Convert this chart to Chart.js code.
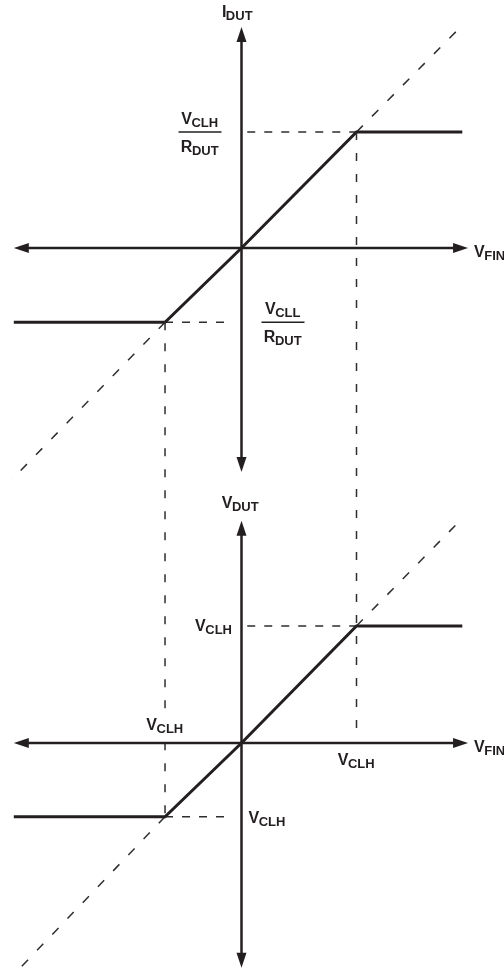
<!DOCTYPE html>
<html>
<head>
<meta charset="utf-8">
<script src="https://cdn.jsdelivr.net/npm/chart.js@4"></script>
<style>
  html, body { margin: 0; padding: 0; background: #fff; }
  canvas { display: block; }
</style>
</head>
<body>
<canvas id="clamp" width="504" height="972"></canvas>
<script>
// transfer curve corners (V_CLH = 1 unit on each axis)
const vfin = [-1.98, -0.665, 0, 1.0, 1.92];
const idut = [-0.64, -0.64, 0, 1.0, 1.0];
const vdut = [-0.63, -0.63, 0, 1.0, 1.0];

// unclamped (ideal) line ends, y = x
const idealEnds = [-2.0, 1.9];

// axis extents (arrow tips)
const axisX = [-1.98, 1.97];
const axisTopY = [-1.93, 1.905];
const axisBotY = [-1.92, 1.9];

// label texts [main, subscript]
const xName = ['V', 'FIN'];
const topName = ['I', 'DUT'];
const botName = ['V', 'DUT'];
const highName = ['V', 'CLH'];
const lowName = ['V', 'CLL'];
const resName = ['R', 'DUT'];

const INK = '#231f20';
const DASH = '#2e2e2e';

function pts(xs, ys) {
    let out = [];
    for (let i = 0; i < xs.length; i++) {
        out.push({x: xs[i], y: ys[i]});
    }
    return out;
}

function curve(ys, axis) {
    return {
        data: pts(vfin, ys), yAxisID: axis, showLine: true,
        borderColor: INK, borderWidth: 3, pointRadius: 0, borderJoinStyle: 'miter'
    };
}

function ideal(ys, axis) {
    // dashed extension beyond both clamp corners
    return {
        data: [
            {x: vfin[3], y: ys[3]}, {x: idealEnds[1], y: idealEnds[1]},
            {x: 0, y: null},
            {x: vfin[1], y: ys[1]}, {x: idealEnds[0], y: idealEnds[0]}
        ],
        yAxisID: axis, showLine: true, spanGaps: false,
        borderColor: DASH, borderWidth: 1.5, borderDash: [9, 13], pointRadius: 0
    };
}

function guides(ys, axis) {
    return {
        data: [
            {x: vfin[2] + 0.05, y: ys[3]}, {x: vfin[3], y: ys[3]},
            {x: 0, y: null},
            {x: vfin[1], y: ys[1]}, {x: vfin[2] - 0.14, y: ys[1]}
        ],
        yAxisID: axis, showLine: true, spanGaps: false,
        borderColor: DASH, borderWidth: 1.5, borderDash: [8, 9], pointRadius: 0
    };
}

function arrowHead(ctx, tx, ty, dx, dy) {
    let len = 15, half = 5;
    let bx = tx - dx * len, by = ty - dy * len;
    ctx.beginPath();
    ctx.moveTo(tx, ty);
    ctx.lineTo(bx - dy * half, by + dx * half);
    ctx.lineTo(bx + dy * half, by - dx * half);
    ctx.closePath();
    ctx.fill();
}

function arrowLine(ctx, x1, y1, x2, y2) {
    let L = Math.hypot(x2 - x1, y2 - y1);
    let dx = (x2 - x1) / L, dy = (y2 - y1) / L;
    ctx.beginPath();
    ctx.moveTo(x1 + dx * 12, y1 + dy * 12);
    ctx.lineTo(x2 - dx * 12, y2 - dy * 12);
    ctx.stroke();
    arrowHead(ctx, x2, y2, dx, dy);
    arrowHead(ctx, x1, y1, -dx, -dy);
}

function subText(ctx, parts, px, py, align, knockout) {
    ctx.font = 'bold 16px "Liberation Sans", Arial, sans-serif';
    let w1 = ctx.measureText(parts[0]).width;
    ctx.font = 'bold 13px "Liberation Sans", Arial, sans-serif';
    let w2 = ctx.measureText(parts[1]).width;
    let total = w1 + w2;
    let left = px;
    if (align == 'center') left = px - total / 2;
    if (align == 'right') left = px - total;
    if (knockout) {
        ctx.save();
        ctx.fillStyle = '#fff';
        ctx.fillRect(left - 1, py - 13, total + 2, 18);
        ctx.restore();
    }
    ctx.textAlign = 'left';
    ctx.textBaseline = 'alphabetic';
    ctx.font = 'bold 16px "Liberation Sans", Arial, sans-serif';
    ctx.fillText(parts[0], left, py);
    ctx.font = 'bold 13px "Liberation Sans", Arial, sans-serif';
    ctx.fillText(parts[1], left + w1 - 0.5, py + 3);
}

function fraction(ctx, top, bottom, cx, by) {
    subText(ctx, top, cx, by - 8, 'center');
    subText(ctx, bottom, cx, by + 20, 'center');
    ctx.lineWidth = 1.5;
    ctx.beginPath();
    ctx.moveTo(cx - 21.5, by);
    ctx.lineTo(cx + 21.5, by);
    ctx.stroke();
}

const overlay = {
    id: 'overlay',
    afterDatasetsDraw(chart) {
        let ctx = chart.ctx;
        let sx = chart.scales.x, st = chart.scales.yTop, sb = chart.scales.yBot;
        ctx.save();

        // vertical guides running across both panels
        ctx.strokeStyle = DASH;
        ctx.lineWidth = 1.5;
        ctx.setLineDash([8, 13]);
        ctx.beginPath();
        ctx.moveTo(sx.getPixelForValue(vfin[3]), st.getPixelForValue(idut[3]));
        ctx.lineTo(sx.getPixelForValue(vfin[3]), sb.getPixelForValue(0) - 9);
        ctx.moveTo(sx.getPixelForValue(vfin[1]), st.getPixelForValue(idut[1]));
        ctx.lineTo(sx.getPixelForValue(vfin[1]), sb.getPixelForValue(vdut[1]));
        ctx.stroke();
        ctx.setLineDash([]);

        // axes with arrows
        ctx.strokeStyle = INK;
        ctx.fillStyle = INK;
        ctx.lineWidth = 2.5;
        let x0 = sx.getPixelForValue(0);
        [st, sb].forEach((s, i) => {
            let ext = i == 0 ? axisTopY : axisBotY;
            let y0 = s.getPixelForValue(0);
            arrowLine(ctx, sx.getPixelForValue(axisX[0]), y0, sx.getPixelForValue(axisX[1]), y0);
            arrowLine(ctx, x0, s.getPixelForValue(ext[0]), x0, s.getPixelForValue(ext[1]));
            subText(ctx, xName, sx.getPixelForValue(axisX[1]) + 6, y0 + 9, 'left');
        });

        // top panel labels
        subText(ctx, topName, x0 - 4, st.getPixelForValue(axisTopY[1]) - 10, 'center');
        fraction(ctx, highName, resName, x0 - 41.5, st.getPixelForValue(idut[3]));
        fraction(ctx, lowName, resName, x0 + 41.5, st.getPixelForValue(idut[1]));

        // bottom panel labels
        subText(ctx, botName, x0 - 1, sb.getPixelForValue(axisBotY[1]) - 13, 'center');
        subText(ctx, highName, x0 - 9, sb.getPixelForValue(vdut[3]) + 5, 'right');
        subText(ctx, highName, sx.getPixelForValue(vfin[1]), sb.getPixelForValue(0) - 13, 'center', true);
        subText(ctx, highName, sx.getPixelForValue(vfin[3]), sb.getPixelForValue(0) + 22, 'center');
        subText(ctx, highName, x0 + 7, sb.getPixelForValue(vdut[1]) + 6, 'left');

        ctx.restore();
    }
};

let ctx = document.getElementById("clamp").getContext("2d");

let chart = new Chart(ctx, {
    type: 'scatter',
    data: {
        datasets: [
            curve(idut, 'yTop'),
            curve(vdut, 'yBot'),
            ideal(idut, 'yTop'),
            ideal(vdut, 'yBot'),
            guides(idut, 'yTop'),
            guides(vdut, 'yBot')
        ]
    },
    options: {
        responsive: false,
        animation: false,
        events: [],
        devicePixelRatio: 1,
        layout: { padding: 0 },
        plugins: { legend: { display: false }, tooltip: { enabled: false } },
        scales: {
            x: { type: 'linear', display: false, min: -2.1, max: -2.1 + 504 / 115 },
            yTop: { type: 'linear', display: false, min: -724 / 116, max: 248 / 116 },
            yBot: { type: 'linear', display: false, min: -229 / 117, max: 743 / 117 }
        }
    },
    plugins: [overlay]
});
</script>
</body>
</html>
